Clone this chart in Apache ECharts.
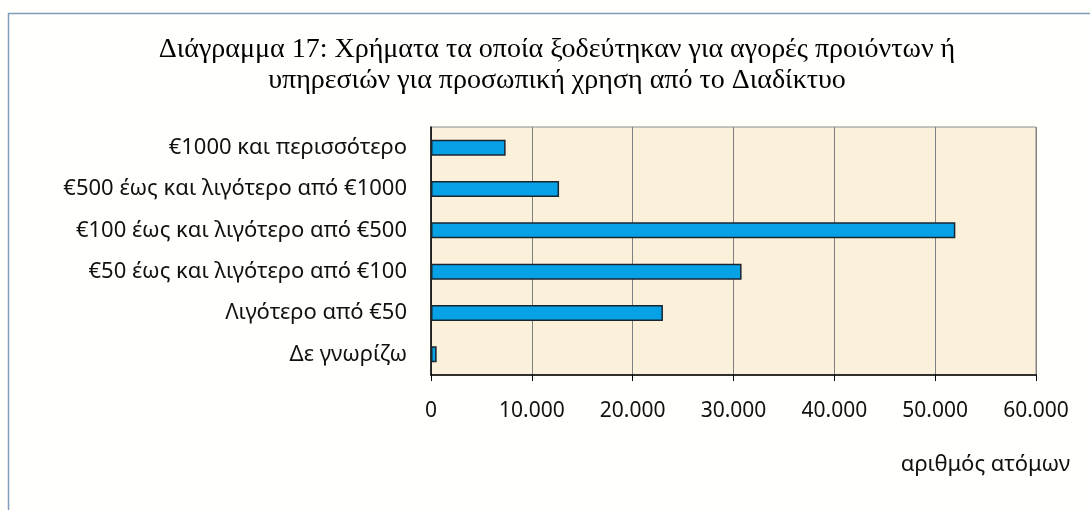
<!DOCTYPE html>
<html><head><meta charset="utf-8">
<script src="https://cdn.jsdelivr.net/npm/echarts@6/dist/echarts.min.js"></script>
<style>html,body{margin:0;padding:0;background:#fff}#c{width:1090px;height:510px}</style>
</head><body><div id="c"></div>
<script>
const categories = ['Δε γνωρίζω','Λιγότερο από €50','€50 έως και λιγότερο από €100','€100 έως και λιγότερο από €500','€500 έως και λιγότερο από €1000','€1000 και περισσότερο'];
const values = [560, 23000, 30800, 52000, 12700, 7400];
const xTicks = [0, 10000, 20000, 30000, 40000, 50000, 60000];
const titleLines = ['Διάγραμμα 17: Χρήματα τα οποία ξοδεύτηκαν για αγορές προιόντων ή','υπηρεσιών για προσωπική χρηση από το Διαδίκτυο'];
const xName = 'αριθμός ατόμων';

const chart = echarts.init(document.getElementById('c'));
chart.setOption({
  backgroundColor: '#fffffc',
  animation: false,
  title: {
    text: titleLines.join('\n'), left: 552, top: 29, textAlign: 'center',
    textStyle: {fontFamily: 'Liberation Serif', fontSize: 28, fontWeight: 'normal', color: '#000', lineHeight: 31}
  },
  graphic: [{type: 'rect', shape: {x: 8.5, y: 13.5, width: 1200, height: 600}, style: {fill: null, stroke: '#7f9db9', lineWidth: 1.5}, z: -1}],
  grid: {left: 431, top: 127, width: 605, height: 248, backgroundColor: '#fbf0da', show: true, borderColor: '#8a8a8a', borderWidth: 1},
  xAxis: {
    type: 'value', min: 0, max: 60000, interval: 10000,
    axisLine: {show: true, lineStyle: {color: '#000', width: 1.5}},
    axisTick: {show: true, length: 6, lineStyle: {color: '#000'}},
    splitLine: {show: true, lineStyle: {color: '#808080', width: 1}},
    axisLabel: {margin: 26, fontFamily: 'Noto Sans', fontSize: 21, color: '#111',
      formatter: v => xTicks.includes(v) ? (v === 0 ? '0' : (v/1000) + '.000') : ''},
    name: xName, nameLocation: 'end', nameGap: 34,
    nameTextStyle: {fontFamily: 'Noto Sans', fontSize: 22, color: '#111', align: 'right', verticalAlign: 'top', padding: [79, 0, 0, 0]}
  },
  yAxis: {
    type: 'category', data: categories,
    axisLine: {show: true, lineStyle: {color: '#000', width: 1.5}},
    axisTick: {show: false},
    axisLabel: {margin: 24, fontFamily: 'Noto Sans', fontSize: 22, color: '#111'}
  },
  series: [{
    type: 'bar', data: values, barWidth: 16,
    itemStyle: {color: '#07a2e6', borderColor: '#1a2530', borderWidth: 1.5}
  }]
});
</script></body></html>
